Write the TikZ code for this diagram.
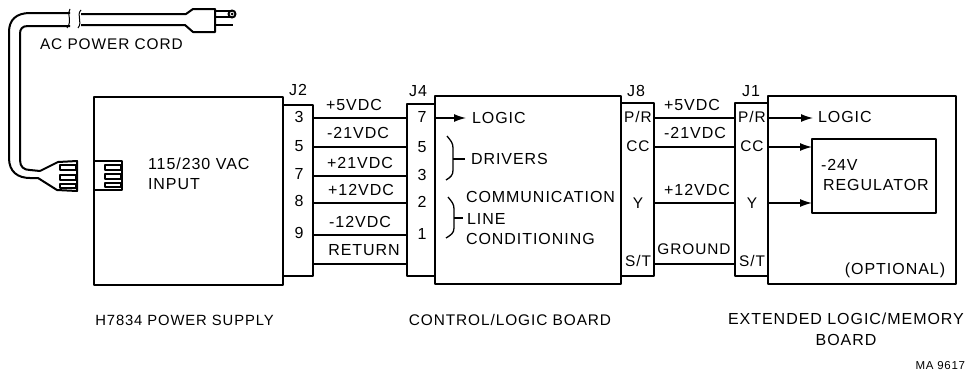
\documentclass[tikz,border=0pt]{standalone}
\usepackage{fontspec}
\setmainfont[LetterSpace=6]{Liberation Sans}
\usetikzlibrary{arrows.meta}

\begin{document}
\begin{tikzpicture}[x=1pt, y=-1pt, line join=round,
  board/.style={draw, line width=1.8pt, inner sep=0pt, outer sep=0pt},
  txt/.style={font=\fontsize{16}{18}\selectfont, inner sep=0pt, outer sep=0pt},
  capt/.style={font=\fontsize{15.4}{18}\selectfont, inner sep=0pt, outer sep=0pt},
  small/.style={font=\fontsize{11.5}{13}\selectfont, inner sep=0pt, outer sep=0pt},
  wire/.style={line width=1.3pt},
  feed/.style={line width=1.3pt, -{Latex[length=12pt,width=8pt]}},
  cord/.style={line width=2pt}]
  \useasboundingbox (0,0) rectangle (969,372);
  % boards, placed by absolute coordinates
  \node[board, minimum width=189pt, minimum height=188pt] (psu)  at (188.5,191) {};
  \node[board, minimum width=186pt, minimum height=188pt] (ctl)  at (528,190) {};
  \node[board, minimum width=188pt, minimum height=188pt] (ext)  at (862,190) {};
  \node[board, minimum width=124pt, minimum height=74pt]  (reg)  at (874,176) {};
  % connector blocks
  \node[board, minimum width=30pt, minimum height=171pt] (jtwo)   at (298,190.5) {};
  \node[board, minimum width=28pt, minimum height=172pt] (jfour)  at (421,190) {};
  \node[board, minimum width=33pt, minimum height=173pt] (jeight) at (637.5,189.5) {};
  \node[board, minimum width=33pt, minimum height=173pt] (jone)   at (751.5,189.5) {};
  \node[txt] (jtwol)   at (298,90) {J2};
  \node[txt] (jfourl)  at (418,91) {J4};
  \node[txt] (jeightl) at (636,91) {J8};
  \node[txt] (jonel)   at (751,91) {J1};
  % pin names
  \node[txt] (pa) at (299,117) {3};
  \node[txt] (pb) at (299,146) {5};
  \node[txt] (pc) at (299,174) {7};
  \node[txt] (pd) at (299,201) {8};
  \node[txt] (pe) at (299,233) {9};
  \node[txt] (qa) at (422,117) {7};
  \node[txt] (qb) at (422,147) {5};
  \node[txt] (qc) at (422,175) {3};
  \node[txt] (qd) at (422,202) {2};
  \node[txt] (qe) at (422,234) {1};
  \node[capt] (ra) at (638,117) {P/R};
  \node[capt] (rb) at (638,146) {CC};
  \node[capt] (rc) at (638,203) {Y};
  \node[capt] (rd) at (638,261) {S/T};
  \node[capt] (sa) at (752,117) {P/R};
  \node[capt] (sb) at (752,146) {CC};
  \node[capt] (sc) at (752,203) {Y};
  \node[capt] (sd) at (752,261) {S/T};
  % supply lines
  \coordinate (wa) at (360,118);
  \coordinate (wb) at (360,147);
  \coordinate (wc) at (360,176);
  \coordinate (wd) at (360,203);
  \coordinate (we) at (360,235);
  \coordinate (wf) at (360,264);
  \draw[wire] (jtwo.east |- wa) -- (jfour.west |- wa);
  \draw[wire] (jtwo.east |- wb) -- (jfour.west |- wb);
  \draw[wire] (jtwo.east |- wc) -- (jfour.west |- wc);
  \draw[wire] (jtwo.east |- wd) -- (jfour.west |- wd);
  \draw[wire] (jtwo.east |- we) -- (jfour.west |- we);
  \draw[wire] (jtwo.east |- wf) -- (jfour.west |- wf);
  \node[txt] (la) at (354,105) {+5VDC};
  \node[txt] (lb) at (358,133) {-21VDC};
  \node[txt] (lc) at (360,163) {+21VDC};
  \node[txt] (ld) at (361,190) {+12VDC};
  \node[txt] (le) at (360,222) {-12VDC};
  \node[txt] (lf) at (364,250) {RETURN};
  % lines between the two boards
  \draw[wire] (jeight.east |- wa) -- (jone.west |- wa);
  \draw[wire] (jeight.east |- wb) -- (jone.west |- wb);
  \draw[wire] (jeight.east |- wd) -- (jone.west |- wd);
  \draw[wire] (jeight.east |- wf) -- (jone.west |- wf);
  \node[txt] (ma) at (692,105) {+5VDC};
  \node[txt] (mb) at (695,133) {-21VDC};
  \node[txt] (mc) at (697,190) {+12VDC};
  \node[capt] (md) at (694,249) {GROUND};
  % control board contents
  \node[txt, anchor=west] (lgc)  at (472,118) {LOGIC};
  \node[txt, anchor=west] (drv)  at (471,159) {DRIVERS};
  \node[txt, anchor=west] (com)  at (466,197) {COMMUNICATION};
  \node[txt, anchor=west] (lin)  at (467,219) {LINE};
  \node[txt, anchor=west] (cnd)  at (466,239) {CONDITIONING};
  \draw[feed, shorten >=6pt] (ctl.west |- lgc) -- (lgc.west);
  \coordinate (drvb) at (453,159);
  \coordinate (comb) at (454,218);
  \draw[wire] (447,136) .. controls (451,141) and (453,143) .. (453,148) -- (453,170)
    .. controls (453,175) and (451,177) .. (446,180);
  \draw[wire] (drvb) -- ++(12,0);
  \draw[wire] (448,197) .. controls (452,202) and (454,204) .. (454,209) -- (454,228)
    .. controls (454,233) and (451,235) .. (446,238);
  \draw[wire] (comb) -- ++(9,0);
  % extended board contents
  \node[txt, anchor=west] (lgx) at (818,117) {LOGIC};
  \node[txt, anchor=west] (vn)  at (821,165) {-24V};
  \node[txt, anchor=west] (rgl) at (823,185) {REGULATOR};
  \node[txt] (opt) at (895,270) {(OPTIONAL)};
  \draw[feed, shorten >=5pt] (ext.west |- wa) -- (lgx.west |- wa);
  \draw[feed] (ext.west |- wb) -- (reg.west |- wb);
  \draw[feed] (ext.west |- wd) -- (reg.west |- wd);
  % captions
  \node[capt, font=\fontsize{14.8}{18}\selectfont] (psul) at (184.5,320) {H7834 POWER SUPPLY};
  \node[capt] (ctll) at (510,320) {CONTROL/LOGIC BOARD};
  \node[txt] (extl) at (846,319) {EXTENDED LOGIC/MEMORY};
  \node[txt] (extm) at (846,340) {BOARD};
  \node[small, anchor=east] (fig) at (965,366) {MA 9617};
  % input text
  \node[txt, anchor=west] (inpa) at (148,164) {115/230 VAC};
  \node[txt, anchor=west] (inpb) at (148,184) {INPUT};
  \node[capt, anchor=west] (crd)  at (40,44) {AC POWER CORD};
  % power cord
  \draw[cord] (70,13) -- (30,13) .. controls (16,13) and (9,20) .. (9,32) -- (9,158)
    .. controls (9,172) and (18,178) .. (30,178) -- (38,178) -- (57,190) -- (77,191) -- (77,161) -- (58,162) -- (40,171);
  \draw[cord] (70,26) -- (28,26) .. controls (22,26) and (20,29) .. (20,34) -- (20,160)
    .. controls (20,167) and (24,170) .. (30,170) -- (40,171);
  \draw[line width=1pt] (70,9) .. controls (66,14) and (73,20) .. (67,28);
  \draw[line width=1pt] (81,10) .. controls (76,15) and (83,22) .. (78,28);
  \draw[cord] (81,14) -- (186,14) -- (193,9) -- (215,9) -- (215,32) -- (193,32) -- (185,25) -- (81,25);
  \draw[cord] (215,11) -- (232,11);
  \draw[cord] (215,17) -- (232,17);
  \draw[line width=2.4pt] (215,25) -- (233,25);
  \draw[cord] (232,14) circle (3.5);
  \fill (232,14) circle (1.5);
  % plug and socket slots
  \draw[line width=1.2pt] (60,165) rectangle (76,170);
  \draw[line width=1.2pt] (60,175) rectangle (76,180);
  \draw[line width=1.2pt] (60,184) rectangle (76,188);
  \draw[cord] (psu.west |- 0,161) -- (122,161) -- (122,190) -- (psu.west |- 0,190);
  \draw[line width=1.2pt] (105,165) rectangle (121,170);
  \draw[line width=1.2pt] (105,174) rectangle (121,179);
  \draw[line width=1.2pt] (105,183) rectangle (121,187);
\end{tikzpicture}
\end{document}
